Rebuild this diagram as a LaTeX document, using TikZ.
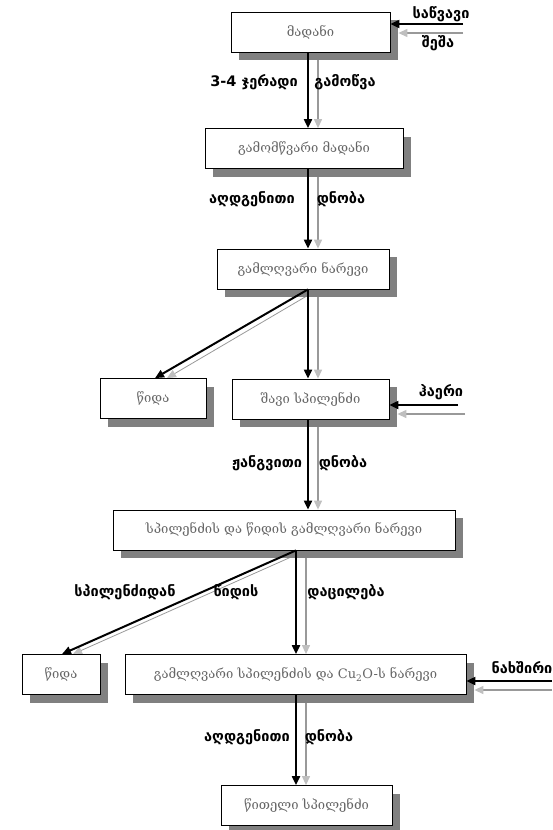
\documentclass[tikz,border=0pt]{standalone}
\usepackage{fontspec}
\setmainfont{DejaVu Serif}
\newfontfamily\labelfont{DejaVu Sans}
\usetikzlibrary{arrows.meta,shadows,backgrounds}

\tikzset{
  stage/.style={draw=black, line width=0.8pt, fill=white, text=black!60,
    font=\fontsize{13}{15}\selectfont, inner sep=0pt, minimum height=40pt,
    drop shadow={shadow xshift=8pt, shadow yshift=-8pt, fill=black!50, opacity=1}},
  lbl/.style={font=\labelfont\bfseries\fontsize{14.5}{16}\selectfont, inner sep=1pt},
  mainarr/.style={line width=2pt, -{Triangle[length=9pt,width=8pt]}},
  sidearr/.style={line width=1.2pt, black!40, -{Triangle[length=9pt,width=8pt,fill=black!25,color=black!25]}},
}

\begin{document}
\begin{tikzpicture}[x=1pt,y=-1pt]
  \useasboundingbox (0,0) rectangle (552,830);

  % stages
  \node[stage, minimum width=159pt] (ore) at (310.5,32) {მადანი};
  \node[stage, minimum width=198pt] (roasted) at (304,148.5) {გამომწვარი მადანი};
  \node[stage, minimum width=172pt] (melt) at (303,269) {გამლღვარი ნარევი};
  \node[stage, minimum width=106pt] (slagA) at (153,398.5) {წიდა};
  \node[stage, minimum width=157pt] (blackcu) at (310.5,399) {შავი სპილენძი};
  \node[stage, minimum width=342pt] (cumelt) at (284,530) {სპილენძის და წიდის გამლღვარი ნარევი};
  \node[stage, minimum width=78pt] (slagB) at (61,674.5) {წიდა};
  \node[stage, minimum width=341pt] (cuoxide) at (295.5,674.5) {გამლღვარი სპილენძის და Cu\textsubscript{2}O-ს ნარევი};
  \node[stage, minimum width=171pt] (redcu) at (306.5,805.5) {წითელი სპილენძი};

  % columns of the vertical arrows
  \coordinate (colA) at (308,0);
  \coordinate (colAg) at (318,0);
  \coordinate (colB) at (296,0);
  \coordinate (colBg) at (306,0);

  % free ends of the side inputs
  \coordinate (fuelin) at (463,24);
  \coordinate (fuelg) at (463,33);
  \coordinate (airin) at (458,405);
  \coordinate (airg) at (465,414);
  \coordinate (coalin) at (552,681);
  \coordinate (coalg) at (552,690);

  % grey twins run under the shadows
  \begin{scope}[on background layer]
    \draw[sidearr] (ore.south -| colAg) -- (roasted.north -| colAg);
    \draw[sidearr] (roasted.south -| colAg) -- (melt.north -| colAg);
    \draw[sidearr] (melt.south -| colAg) -- (blackcu.north -| colAg);
    \draw[sidearr, line width=0.8pt] (melt.south -| colAg) -- ([xshift=14pt]slagA.north);
    \draw[sidearr] (blackcu.south -| colAg) -- (cumelt.north -| colAg);
    \draw[sidearr] (cumelt.south -| colBg) -- (cuoxide.north -| colBg);
    \draw[sidearr, line width=0.8pt] (cumelt.south -| colBg) -- ([xshift=12pt]slagB.north);
    \draw[sidearr] (cuoxide.south -| colBg) -- (redcu.north -| colBg);
    \draw[sidearr] (fuelg) -- ([xshift=8pt]ore.east |- fuelg);
    \draw[sidearr] (airg) -- ([xshift=8pt]blackcu.east |- airg);
    \draw[sidearr] (coalg) -- ([xshift=8pt]cuoxide.east |- coalg);
  \end{scope}

  \draw[mainarr] (ore.south -| colA) -- (roasted.north -| colA);
  \draw[mainarr] (roasted.south -| colA) -- (melt.north -| colA);
  \draw[mainarr] (melt.south -| colA) -- (blackcu.north -| colA);
  \draw[mainarr] (melt.south -| colA) -- ([xshift=2pt]slagA.north);
  \draw[mainarr] (blackcu.south -| colA) -- (cumelt.north -| colA);
  \draw[mainarr] (cumelt.south -| colB) -- (cuoxide.north -| colB);
  \draw[mainarr] (cumelt.south -| colB) -- ([xshift=1pt]slagB.north);
  \draw[mainarr] (cuoxide.south -| colB) -- (redcu.north -| colB);

  % side inputs
  \draw[mainarr] (fuelin) -- (fuelin -| ore.east);
  \draw[mainarr] (airin) -- (airin -| blackcu.east);
  \draw[mainarr] (coalin) -- (coalin -| cuoxide.east);

  % arrow labels
  \node[lbl] (roastL) at (254,82) {3-4 ჯერადი};
  \node[lbl] (roastR) at (345,82) {გამოწვა};
  \node[lbl] (redL) at (252,199) {აღდგენითი};
  \node[lbl] (redR) at (341,199) {დნობა};
  \node[lbl] (oxL) at (267,463) {ჟანგვითი};
  \node[lbl] (oxR) at (343,463) {დნობა};
  \node[lbl] (sepA) at (125,592) {სპილენძიდან};
  \node[lbl] (sepB) at (236,592) {წიდის};
  \node[lbl] (sepC) at (346,592) {დაცილება};
  \node[lbl] (red2L) at (247,737) {აღდგენითი};
  \node[lbl] (red2R) at (329,737) {დნობა};
  \node[lbl] (fuelT) at (441,14) {საწვავი};
  \node[lbl] (fuelB) at (438,43) {შეშა};
  \node[lbl] (airT) at (441,392) {ჰაერი};
  \node[lbl] (coalT) at (522,668) {ნახშირი};
\end{tikzpicture}
\end{document}
